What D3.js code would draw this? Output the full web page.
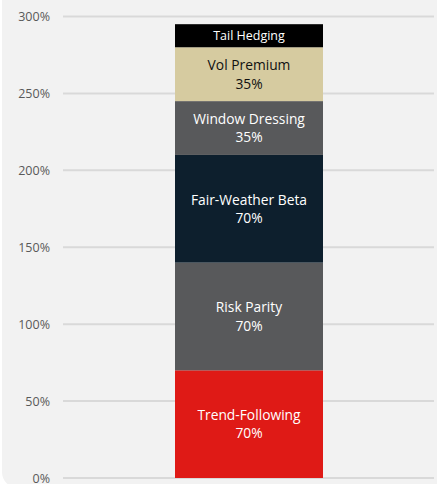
<!DOCTYPE html>
<html><head><meta charset="utf-8">
<script src="https://cdn.jsdelivr.net/npm/d3@7/dist/d3.min.js"></script>
<style>html,body{margin:0;padding:0;background:#fff;}svg{display:block;font-family:"Open Sans",sans-serif;}</style>
</head><body>
<svg id="c" width="437" height="484"></svg>
<script>
const categories = ["Trend-Following","Risk Parity","Fair-Weather Beta","Window Dressing","Vol Premium","Tail Hedging"];
const values = [70,70,70,35,35,15];
const showValue = [true,true,true,true,true,false];
const colors = ["#df1a16","#58595b","#0d1f2d","#58595b","#d6cba0","#000000"];
const textColors = ["#ffffff","#ffffff","#ffffff","#ffffff","#111111","#ffffff"];
const tickValues = [0,50,100,150,200,250,300];

const svg = d3.select("#c");
svg.append("rect").attr("x",2).attr("y",-30).attr("width",480).attr("height",518).attr("rx",16).attr("fill","#f2f2f2");

const y = d3.scaleLinear().domain([0,300]).range([478,16.5]);
const barX0 = 175, barW = 148;

const grid = svg.append("g");
grid.selectAll("line").data(tickValues).join("line")
  .attr("x1",63).attr("x2",434).attr("y1",d=>y(d)).attr("y2",d=>y(d))
  .attr("stroke","#d9d9d9").attr("stroke-width",2);

const axis = d3.axisLeft(y).tickValues(tickValues).tickFormat(d=>d+"%").tickSize(0).tickPadding(0);
const ag = svg.append("g").attr("transform","translate(50,0)").call(axis);
ag.select(".domain").remove();
ag.selectAll("text").attr("fill","#595959").attr("font-size","12.5px").attr("font-family","'Open Sans',sans-serif");

let cum = 0;
const segs = values.map((v,i)=>{const s={i,name:categories[i],v,y0:cum,y1:cum+v};cum+=v;return s;});
const g = svg.append("g");
g.selectAll("rect").data(segs).join("rect")
  .attr("x",barX0).attr("width",barW)
  .attr("y",d=>y(d.y1)).attr("height",d=>y(d.y0)-y(d.y1))
  .attr("fill",d=>colors[d.i]);

segs.forEach(d=>{
  const cx = barX0+barW/2, cy=(y(d.y0)+y(d.y1))/2;
  const t = g.append("text").attr("text-anchor","middle").attr("fill",textColors[d.i])
    .attr("font-size", showValue[d.i] ? "13.8px" : "12.5px");
  if(showValue[d.i]){
    t.append("tspan").attr("x",cx).attr("y",cy-9).attr("dy","0.35em").text(d.name);
    t.append("tspan").attr("x",cx).attr("y",cy+9.5).attr("dy","0.35em").text(d.v+"%");
  } else {
    t.append("tspan").attr("x",cx).attr("y",cy).attr("dy","0.35em").text(d.name);
  }
});
</script>
</body></html>
